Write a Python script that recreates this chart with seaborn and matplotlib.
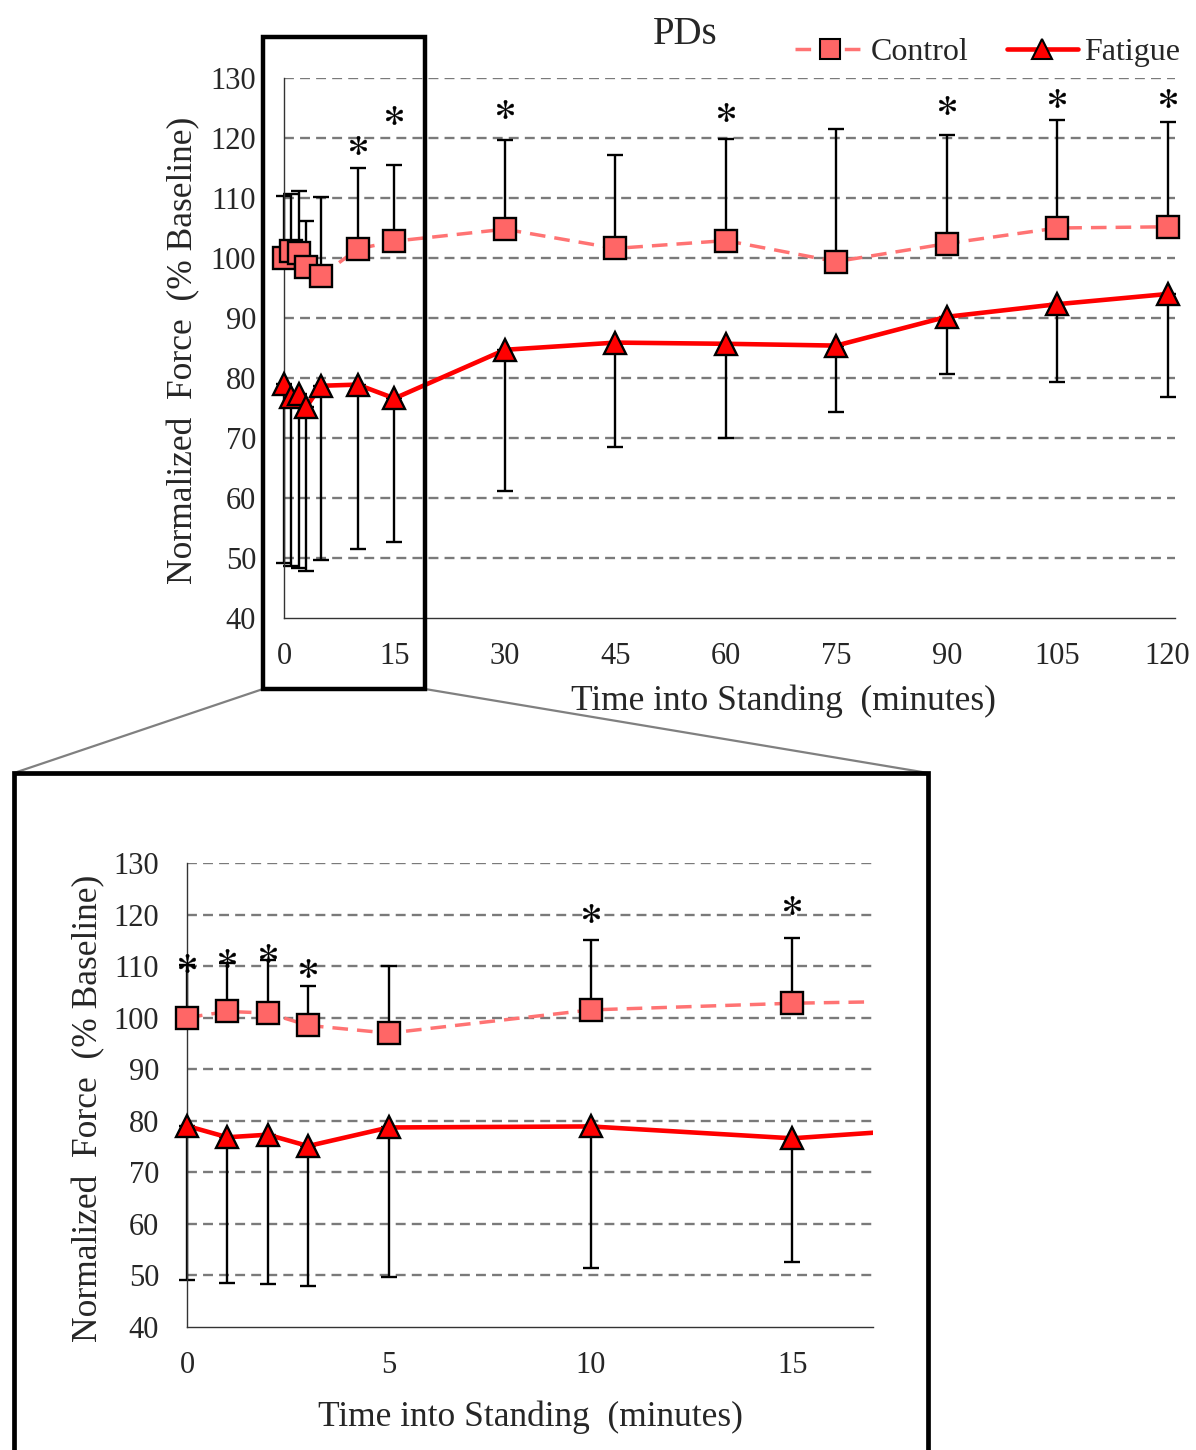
import numpy as np
import pandas as pd
import matplotlib
matplotlib.use("Agg")
import matplotlib.pyplot as plt
from matplotlib.patches import Rectangle
from matplotlib.lines import Line2D
import seaborn as sns

# ---------------- data ----------------
time = [0, 1, 2, 3, 5, 10, 15, 30, 45, 60, 75, 90, 105, 120]
control = [100.0, 101.2, 100.9, 98.5, 97.0, 101.5, 102.8, 104.8, 101.6, 102.9, 99.4, 102.4, 105.0, 105.2]
control_upper = [110.3, 110.7, 111.1, 106.1, 110.1, 115.0, 115.5, 119.7, 117.1, 119.8, 121.5, 120.5, 123.0, 122.6]
fatigue = [79.0, 76.8, 77.3, 75.1, 78.7, 78.9, 76.6, 84.7, 85.9, 85.7, 85.4, 90.2, 92.3, 94.0]
fatigue_lower = [49.1, 48.6, 48.3, 47.9, 49.7, 51.5, 52.6, 61.2, 68.5, 70.0, 74.3, 80.7, 79.4, 76.8]

star_x_main = [10, 15, 30, 60, 90, 105, 120]
star_y_main = [118.9, 123.8, 124.8, 124.4, 125.5, 126.6, 126.6]
star_x_zoom = [0, 1, 2, 3, 10, 15]
star_y_zoom = [110.6, 111.6, 112.5, 109.6, 120.3, 121.9]

main_xticks = [0, 15, 30, 45, 60, 75, 90, 105, 120]
zoom_xticks = [0, 5, 10, 15]
yticks = [40, 50, 60, 70, 80, 90, 100, 110, 120, 130]

title = "PDs"
xlabel = "Time into Standing  (minutes)"
ylabel = "Normalized  Force  (% Baseline)"

# ---------------- style ----------------
sns.set_style("white")
plt.rcParams["font.family"] = ["Liberation Serif", "DejaVu Serif"]
plt.rcParams["mathtext.fontset"] = "stix"

CTRL_FACE = "#FF6666"
CTRL_LINE = "#FF7373"
FAT_COL = "#FF0000"
GRID_COL = "#7A7A7A"

df = pd.DataFrame({
    "time": time + time,
    "force": control + fatigue,
    "condition": ["Control"] * len(time) + ["Fatigue"] * len(time),
})

W, H = 1196, 1450
fig = plt.figure(figsize=(W / 100, H / 100), dpi=100)


def px_rect(l, t, r, b):
    return [l / W, 1 - b / H, (r - l) / W, (b - t) / H]


ax_main = fig.add_axes(px_rect(284, 78, 1175, 618))
ax_zoom = fig.add_axes(px_rect(187, 863, 873, 1327))


def draw(ax, xlim, xticks, sx, sy):
    ax.set_xlim(*xlim)
    ax.set_ylim(40, 130)
    ax.set_yticks(yticks)
    ax.set_xticks(xticks)
    # grid
    ax.yaxis.grid(True, color=GRID_COL, linewidth=1.7, linestyle=(0, (4.2, 2.6)))
    ax.xaxis.grid(False)
    ax.set_axisbelow(True)
    # error bars
    c = np.array(control)
    f = np.array(fatigue)
    ax.errorbar(time, c, yerr=[np.zeros_like(c), np.array(control_upper) - c],
                fmt="none", ecolor="black", elinewidth=1.7, capsize=5.5, capthick=1.7, zorder=2)
    ax.errorbar(time, f, yerr=[f - np.array(fatigue_lower), np.zeros_like(f)],
                fmt="none", ecolor="black", elinewidth=1.7, capsize=5.5, capthick=1.7, zorder=2)
    n0 = len(ax.lines)
    sns.lineplot(data=df, x="time", y="force", hue="condition", style="condition",
                 palette={"Control": CTRL_LINE, "Fatigue": FAT_COL},
                 markers={"Control": "s", "Fatigue": "^"},
                 dashes={"Control": (4.5, 2.6), "Fatigue": ""},
                 markersize=15.5, markeredgecolor="black", markeredgewidth=1.7,
                 estimator=None, sort=False, legend=False, ax=ax, zorder=3)
    new = ax.lines[n0:]
    new[0].set_linewidth(2.5)
    new[0].set_markerfacecolor(CTRL_FACE)
    new[1].set_linewidth(3.3)
    new[1].set_markerfacecolor(FAT_COL)
    # significance stars
    sns.scatterplot(x=sx, y=sy, marker="$*$", s=180, color="black",
                    linewidth=0.3, edgecolor="black", ax=ax, zorder=4, legend=False)
    # spines & ticks
    for side in ["top", "right"]:
        ax.spines[side].set_visible(False)
    for side in ["left", "bottom"]:
        ax.spines[side].set_color("#333333")
        ax.spines[side].set_linewidth(1.0)
    ax.tick_params(axis="x", direction="inout", length=9, width=1.0, color="#333333",
                   labelsize=22, pad=13)
    ax.tick_params(axis="y", length=0, labelsize=22, pad=20)
    ax.set_xlabel(xlabel, fontsize=25.5)
    ax.set_ylabel(ylabel, fontsize=25.5)
    ax.set_facecolor("white")
    # clip everything to a box that lets x=0 markers spill to the left
    clip = Rectangle((-0.06, -0.2), 1.06 + (0.03 if xlim[1] > 100 else 0.0), 1.5,
                     transform=ax.transAxes, facecolor="none", edgecolor="none")
    ax.add_patch(clip)
    for art in list(ax.lines) + list(ax.collections):
        art.set_clip_on(True)
        art.set_clip_path(clip)
    # hide grid line at 40 (axis)
    for y, gl in zip(ax.get_yticks(), ax.get_ygridlines()):
        if y == 40:
            gl.set_visible(False)


draw(ax_main, (0, 121), main_xticks, star_x_main, star_y_main)
draw(ax_zoom, (0, 17), zoom_xticks, star_x_zoom, star_y_zoom)

# label positions
ax_main.xaxis.set_label_coords((783 - 284) / 891, (618 - 685) / 540)
ax_main.yaxis.set_label_coords((200 - 284) / 891, (618 - 350) / 540)
ax_zoom.xaxis.set_label_coords((530 - 187) / 686, (1327 - 1400) / 464)
ax_zoom.yaxis.set_label_coords((105 - 187) / 686, (1327 - 1108) / 464)

fig.text(685 / W, 1 - 34 / H, title, ha="center", va="center", fontsize=28)

# legend
h_ctrl = Line2D([], [], color=CTRL_LINE, linewidth=2.5, linestyle=(0, (4.5, 2.6)),
                marker="s", markersize=14, markerfacecolor=CTRL_FACE,
                markeredgecolor="black", markeredgewidth=1.5)
h_fat = Line2D([], [], color=FAT_COL, linewidth=3.3, marker="^", markersize=14,
               markerfacecolor=FAT_COL, markeredgecolor="black", markeredgewidth=1.5)
fig.legend([h_ctrl, h_fat], ["Control", "Fatigue"], loc="center right",
           bbox_to_anchor=(1180 / W, 1 - 52 / H), ncol=2, frameon=False,
           fontsize=23, handlelength=2.2, handletextpad=0.2, columnspacing=1.2,
           borderpad=0, borderaxespad=0)

# zoom box decorations
fig.add_artist(Rectangle((263 / W, 1 - 689 / H), (425 - 263) / W, (689 - 37) / H,
                         transform=fig.transFigure, fill=False, edgecolor="black",
                         linewidth=3.2, zorder=10))
fig.add_artist(Rectangle((14 / W, -0.05), (928 - 14) / W, 0.05 + 1 - 773 / H,
                         transform=fig.transFigure, fill=False, edgecolor="black",
                         linewidth=3.4, zorder=10))
fig.add_artist(Line2D([263 / W, 14 / W], [1 - 689 / H, 1 - 773 / H],
                      transform=fig.transFigure, color="#808080", linewidth=1.6, zorder=9))
fig.add_artist(Line2D([425 / W, 928 / W], [1 - 689 / H, 1 - 773 / H],
                      transform=fig.transFigure, color="#808080", linewidth=1.6, zorder=9))

fig.savefig("out.png", dpi=100, facecolor="white")
